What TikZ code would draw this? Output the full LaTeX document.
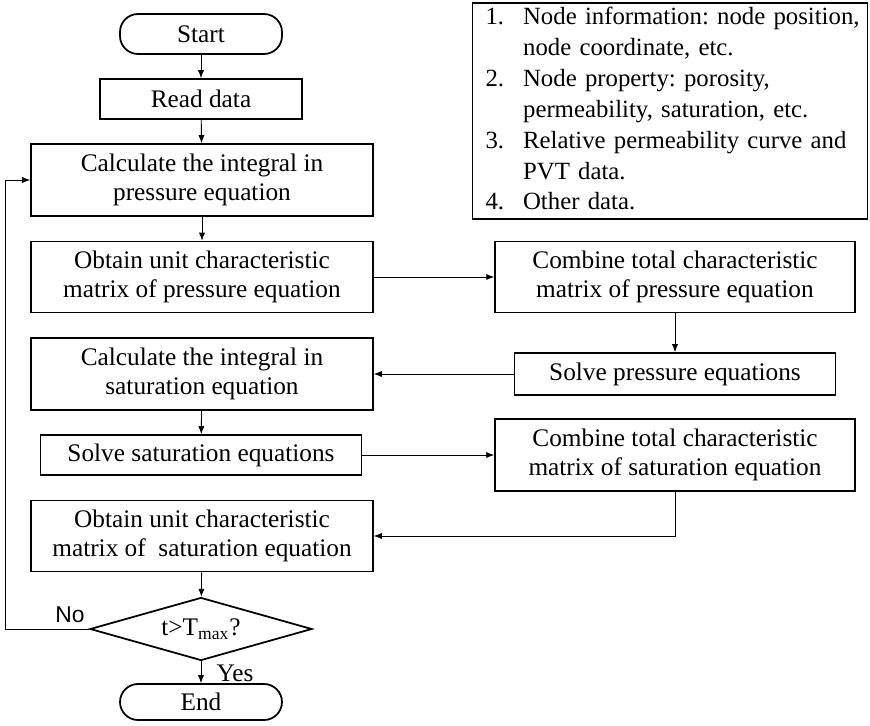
\documentclass[tikz,border=0pt]{standalone}
\usepackage{fontspec}
\setmainfont{Liberation Serif}
\newfontfamily\labelfont{Liberation Sans}
\usetikzlibrary{shapes.geometric,arrows.meta}
\frenchspacing
\begin{document}
\begin{tikzpicture}[x=0.02cm,y=-0.02cm,
  box/.style={rectangle,draw,line width=1pt,align=center,inner sep=0pt,font=\fontsize{14.4}{16.5}\selectfont},
  term/.style={box,rounded corners=0.36cm,minimum width=3.24cm},
  test/.style={diamond,draw,line width=1pt,inner sep=0pt,aspect=3.5,minimum width=4.44cm,minimum height=1.26cm,font=\fontsize{14.4}{16.5}\selectfont},
  arr/.style={draw,line width=0.5pt,-{Latex[length=4.5pt,width=3.5pt]}}]
\useasboundingbox (0,0) rectangle (870,726);
\node[term,minimum height=0.8cm] (start) at (201,34) {Start};
\node[box,minimum width=4.04cm,minimum height=0.8cm] (read) at (201,99) {Read data};
\node[box,minimum width=6.84cm,minimum height=1.44cm] (calcp) at (202,180) {Calculate the integral in\\pressure equation};
\node[box,minimum width=6.84cm,minimum height=1.42cm] (unitp) at (202,277) {Obtain unit characteristic\\matrix of pressure equation};
\node[box,minimum width=7.2cm,minimum height=1.42cm] (totp) at (675,277) {Combine total characteristic\\matrix of pressure equation};
\node[box,minimum width=6.42cm,minimum height=0.84cm] (solvep) at (675,374) {Solve pressure equations};
\node[box,minimum width=6.84cm,minimum height=1.44cm] (calcs) at (202,374) {Calculate the integral in\\saturation equation};
\node[box,minimum width=6.42cm,minimum height=0.8cm] (solves) at (201,455) {Solve saturation equations};
\node[box,minimum width=7.2cm,minimum height=1.44cm] (tots) at (675,455) {Combine total characteristic\\matrix of saturation equation};
\node[box,minimum width=6.84cm,minimum height=1.42cm] (units) at (202,536) {Obtain unit characteristic\\matrix of\ \ saturation equation};
\node[test] (check) at (201,629) {t>T\textsubscript{max}?};
\node[term,minimum height=0.72cm] (stop) at (201,702) {End};
\node[box,text width=7.9cm,minimum height=4.26cm,align=left,font=\fontsize{14.1}{17.6}\selectfont] (legend) at (670,111) {%
  \begin{tabular}{@{\hspace{0.26cm}}l@{\hspace{0.38cm}}l@{}}
  1. & Node information: node position,\\ & node coordinate, etc.\\
  2. & Node property: porosity,\\ & permeability, saturation, etc.\\
  3. & Relative permeability curve and\\ & PVT data.\\
  4. & Other data.
  \end{tabular}};
\coordinate (back) at (5,629);
\path[arr] (start) edge (read); \path[arr] (read) edge (calcp);
\path[arr] (calcp) edge (unitp); \path[arr] (unitp) edge (totp);
\path[arr] (totp) edge (solvep); \path[arr] (solvep) edge (calcs);
\path[arr] (calcs) edge (solves); \path[arr] (solves) edge (tots);
\draw[arr] (tots) |- (units);
\path[arr] (units) edge (check);
\draw[arr] (check.west) -- (back) |- (calcp.west);
\draw[arr] (check) -- (stop);
\node[font=\labelfont\fontsize{13}{14}\selectfont] (no) at (70,615) {No};
\node[font=\fontsize{14.4}{14}\selectfont] (yes) at (235,673) {Yes};
\end{tikzpicture}
\end{document}
